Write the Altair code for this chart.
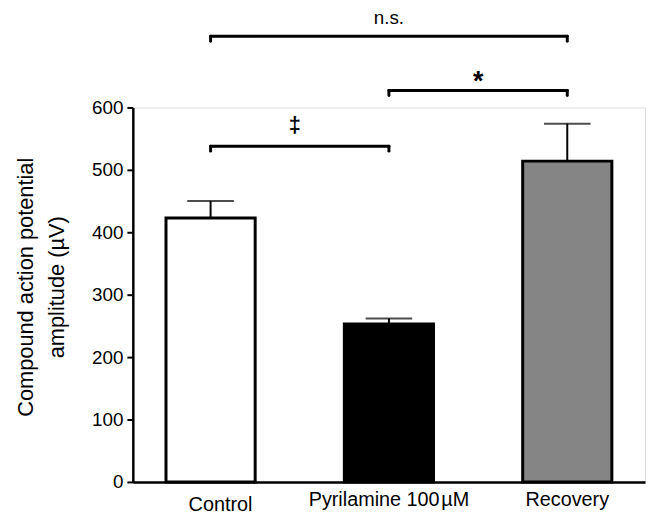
import altair as alt
import pandas as pd

# ---- data ----
categories = ["Control", "Pyrilamine 100\u200aµM", "Recovery"]
means = [423, 253, 514]
upper = [450, 262, 574]

bracket_from = ["Control", "Pyrilamine 100\u200aµM", "Control"]
bracket_to = ["Pyrilamine 100\u200aµM", "Recovery", "Recovery"]
bracket_y = [538, 627, 714]
bracket_text = ["‡", "*", "n.s."]
bracket_text_y = [560, 628, 733]

# ---- tables ----
bars = pd.DataFrame({"cat": categories, "mean": means, "upper": upper,
                     "fill": ["white", "black", "#858585"]})
brackets = pd.DataFrame({"from": bracket_from, "to": bracket_to, "y": bracket_y,
                         "label": bracket_text, "ly": bracket_text_y})
ends = pd.DataFrame({
    "cat": bracket_from + bracket_to,
    "y": bracket_y + bracket_y,
})
ends["y2"] = ends["y"] - 8

W, H = 517, 378
font = "Liberation Sans"

xscale = alt.Scale(domain=categories, paddingInner=0.5, paddingOuter=0.186)
yscale = alt.Scale(domain=[0, 600])

x_axis = alt.Axis(title=None, ticks=False, domainWidth=2.5, domainColor="black",
                  labelFontSize=20, labelColor="black",
                  labelPadding={"condition": {"test": "datum.value == 'Control'", "value": 13}, "value": 8},
                  labelOffset={"condition": {"test": "datum.value == 'Control'", "value": 10}, "value": 0},
                  labelAngle=0, labelFont=font)
y_axis = alt.Axis(values=[0, 100, 200, 300, 400, 500, 600], grid=False,
                  domainWidth=2.5, domainColor="black", tickWidth=2,
                  tickColor="black", tickSize=6, labelFontSize=19,
                  labelColor="black", labelPadding=4, labelFont=font,
                  title=["Compound action potential", "amplitude (µV)"],
                  titleFontSize=22, titleFontWeight="normal", titleFont=font,
                  titleColor="black", titleX=-108, titleY=181,
                  titleBaseline="middle", titleLineHeight=31, titleAngle=270)

base = alt.Chart(bars)
X = alt.X("cat:N", scale=xscale, axis=x_axis, sort=categories)
Y = alt.Y("mean:Q", scale=yscale, axis=y_axis)

err_rule = base.mark_rule(color="black", strokeWidth=2).encode(
    x=X, y=Y, y2="upper:Q")
err_cap = base.mark_tick(color="black", size=47, thickness=2).encode(
    x=X, y=alt.Y("upper:Q", scale=yscale))

bar_marks = base.mark_bar(stroke="black", strokeWidth=3).encode(
    x=X, y=Y, fill=alt.Fill("fill:N", scale=None))

bchart = alt.Chart(brackets)
br_lines = bchart.mark_rule(color="black", strokeWidth=3, strokeCap="round").encode(
    x=alt.X("from:N", scale=xscale, sort=categories),
    x2="to:N",
    y=alt.Y("y:Q", scale=yscale))
br_ends = alt.Chart(ends).mark_rule(color="black", strokeWidth=3, strokeCap="round").encode(
    x=alt.X("cat:N", scale=xscale, sort=categories),
    y=alt.Y("y:Q", scale=yscale), y2="y2:Q")

t1 = bchart.transform_filter("datum.label == '‡'").mark_text(
    fontSize=22, fontWeight="bold", font=font, color="black", dx=85, baseline="alphabetic").encode(
    x=alt.X("from:N", scale=xscale, sort=categories), y=alt.Y("ly:Q", scale=yscale), text="label:N")
t2 = bchart.transform_filter("datum.label == '*'").mark_text(
    fontSize=27, fontWeight="bold", font=font, color="black", dx=90, baseline="alphabetic").encode(
    x=alt.X("from:N", scale=xscale, sort=categories), y=alt.Y("ly:Q", scale=yscale), text="label:N")
t3 = bchart.transform_filter("datum.label == 'n.s.'").mark_text(
    fontSize=19, font=font, color="black", dx=180, baseline="alphabetic").encode(
    x=alt.X("from:N", scale=xscale, sort=categories), y=alt.Y("ly:Q", scale=yscale), text="label:N")

chart = alt.layer(err_rule, err_cap, bar_marks, br_lines, br_ends, t1, t2, t3).properties(
    width=W, height=H, autosize="none",
    padding={"left": 126, "top": 98, "right": 3, "bottom": 31},
).configure_view(stroke=None).configure(font=font)

chart.save("out.html", embed_options={"renderer": "svg", "actions": False})
